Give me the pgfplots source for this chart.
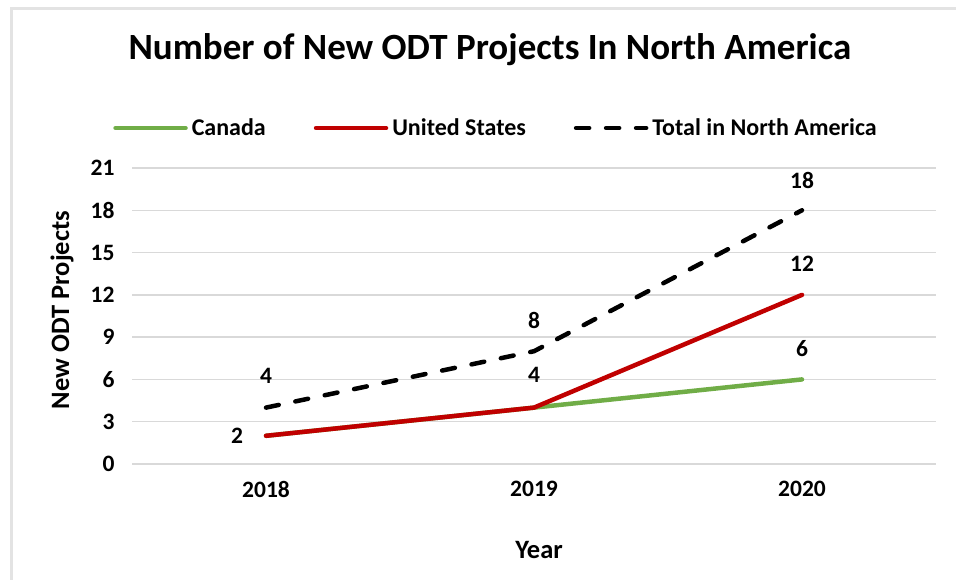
\documentclass[border=0pt]{standalone}
\usepackage{pgfplots}
\pgfplotsset{compat=1.18}
\usepackage{fontspec}
\setmainfont{Carlito}
\definecolor{cgreen}{HTML}{70AD47}
\definecolor{cred}{HTML}{C00000}
\definecolor{cgrid}{HTML}{D9D9D9}
\definecolor{cframe}{HTML}{E3E3E3}
\newcommand{\lbl}{\fontsize{23.5}{28}\selectfont\bfseries}
\newcommand{\lgd}{\fontsize{24}{28}\selectfont\bfseries}
\newcommand{\axl}{\fontsize{26.5}{30}\selectfont\bfseries}
\begin{document}
\begin{tikzpicture}[x=1pt,y=1pt]
\useasboundingbox (0,0) rectangle (956,580);
\draw[draw=cframe, line width=3pt] (11,-2) -- (11,571) -- (960,571);
\node[font=\fontsize{37}{42}\selectfont\bfseries] at (490,530) {Number of New ODT Projects In North America};
\node[font=\axl, rotate=90] at (62,270) {New ODT Projects};
\node[font=\axl] at (539,30) {Year};
\begin{axis}[
  at={(132pt,116pt)}, anchor=south west,
  scale only axis, width=804pt, height=296pt,
  xmin=-0.5, xmax=2.5, ymin=0, ymax=21,
  xtick={0,1,2}, xticklabels={2018,2019,2020},
  ytick={0,3,...,21},
  ymajorgrids, grid style={cgrid, line width=1.5pt},
  axis line style={draw=none},
  major tick length=0pt,
  tick label style={font=\lbl},
  /pgf/number format/assume math mode=true,
  yticklabel style={xshift=-14pt},
  xticklabel style={yshift=-14pt},
  clip=false,
  legend columns=3,
  legend style={at={(0.454,1.135)}, anchor=center, draw=none, fill=none,
    font=\lgd, /tikz/every even column/.append style={column sep=44pt},
    inner xsep=0pt, nodes={inner xsep=4pt}},
  legend image code/.code={\draw[#1] (0pt,0pt) -- (70pt,0pt);},
]
\addplot[cgreen, line width=4.5pt, line cap=round, line join=round] coordinates {(0,2) (1,4) (2,6)};
\addlegendentry{Canada}
\addplot[cred, line width=4.5pt, line cap=round, line join=round] coordinates {(0,2) (1,4) (2,12)};
\addlegendentry{United States}
\addplot[black, line width=4.5pt, line cap=round, dash pattern=on 13pt off 17pt] coordinates {(0,4) (1,8) (2,18)};
\addlegendentry{Total in North America}
\node[font=\lbl] at (axis cs:0,6.24) {4};
\node[font=\lbl] at (axis cs:-0.108,2) {2};
\node[font=\lbl] at (axis cs:1,10.2) {8};
\node[font=\lbl] at (axis cs:1,6.3) {4};
\node[font=\lbl] at (axis cs:2,8.16) {6};
\node[font=\lbl] at (axis cs:2,14.2) {12};
\node[font=\lbl] at (axis cs:2,20.1) {18};
\end{axis}
\end{tikzpicture}
\end{document}
